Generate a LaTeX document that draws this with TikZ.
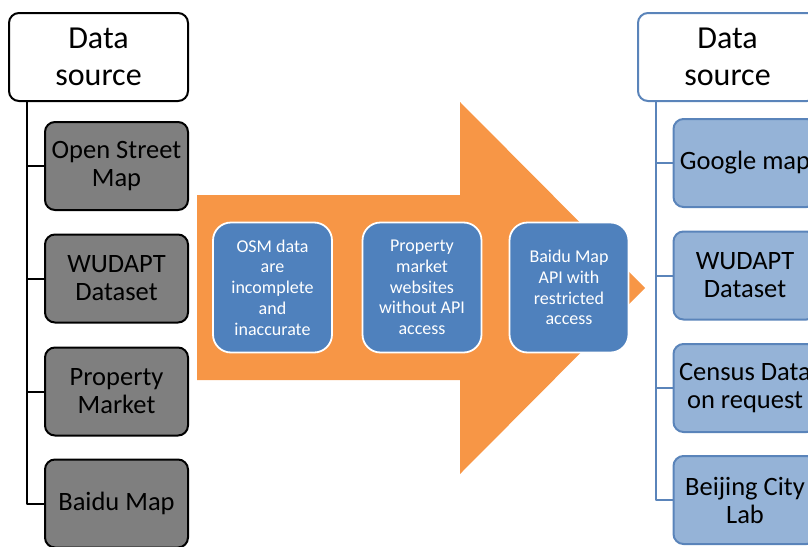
\documentclass[tikz,border=0pt]{standalone}
\usepackage{fontspec}
\setmainfont{Carlito}
\definecolor{arroworange}{HTML}{F79646}
\definecolor{stepblue}{HTML}{4F81BD}
\definecolor{srcblue}{HTML}{5A84BA}
\definecolor{leafblue}{HTML}{95B3D7}
\definecolor{leafgray}{HTML}{7F7F7F}
\def \globalscale {1.000000}

\begin{document}
\begin{tikzpicture}[y=1pt, x=1pt, yscale=-\globalscale, xscale=\globalscale, inner sep=0pt, outer sep=0pt,
  srcbox/.style={draw, line width=2pt, fill=white, rounded corners=10pt, minimum width=179pt, minimum height=88pt, align=center, font=\fontsize{32}{37}\selectfont},
  leafbox/.style={draw, line width=2pt, rounded corners=10pt, minimum width=143pt, minimum height=88pt, align=center, font=\fontsize{26.5}{28}\selectfont},
  stepbox/.style={draw=white, line width=1.8pt, fill=stepblue, text=white, rounded corners=18pt, minimum width=119pt, minimum height=130pt, align=center, font=\fontsize{18}{20.7}\selectfont},
  tree/.style={line width=2pt, line join=round}]
\path[use as bounding box] (0,0) rectangle (808,546);
\clip (0,0) rectangle (808,546);

% big arrow
\path[fill=arroworange] (197,195) -- (460,195) -- (460,102) -- (645,288) -- (460,474) -- (460,380) -- (197,380) -- cycle;



\node[stepbox] (osmstep) at (272.5,287.5) {OSM data\\are\\incomplete\\and\\inaccurate};



\node[stepbox] (marketstep) at (422,287.5) {Property\\market\\websites\\without API\\access};



\node[stepbox] (baidustep) at (569,287.5) {Baidu Map\\API with\\restricted\\access};



% left tree
\node[srcbox, draw=black] (lsrc) at (98.5,57) {Data\\source};



\node[leafbox, draw=black, fill=leafgray] (losm) at (116.5,166) {Open Street\\Map};



\node[leafbox, draw=black, fill=leafgray] (lwudapt) at (116.5,278.5) {WUDAPT\\Dataset};



\node[leafbox, draw=black, fill=leafgray] (lmarket) at (116.5,391.5) {Property\\Market};



\node[leafbox, draw=black, fill=leafgray] (lbaidu) at (116.5,503.5) {Baidu Map};



\coordinate (ltrunk) at (27,102);



\path[draw=black, tree] (ltrunk) |- (losm.west);
\path[draw=black, tree] (ltrunk) |- (lwudapt.west);
\path[draw=black, tree] (ltrunk) |- (lmarket.west);
\path[draw=black, tree] (ltrunk) |- (lbaidu.west);



% right tree
\node[srcbox, draw=srcblue] (rsrc) at (727.5,57) {Data\\source};



\node[leafbox, draw=srcblue, fill=leafblue] (rgoogle) at (745,163) {Google map};



\node[leafbox, draw=srcblue, fill=leafblue] (rwudapt) at (745,275.5) {WUDAPT\\Dataset};



\node[leafbox, draw=srcblue, fill=leafblue] (rcensus) at (745,388) {Census Data\\on request};



\node[leafbox, draw=srcblue, fill=leafblue] (rbeijing) at (745,500) {Beijing City\\Lab};



\coordinate (rtrunk) at (656,102);



\path[draw=srcblue, tree] (rtrunk) |- (rgoogle.west);
\path[draw=srcblue, tree] (rtrunk) |- (rwudapt.west);
\path[draw=srcblue, tree] (rtrunk) |- (rcensus.west);
\path[draw=srcblue, tree] (rtrunk) |- (rbeijing.west);

\end{tikzpicture}
\end{document}
